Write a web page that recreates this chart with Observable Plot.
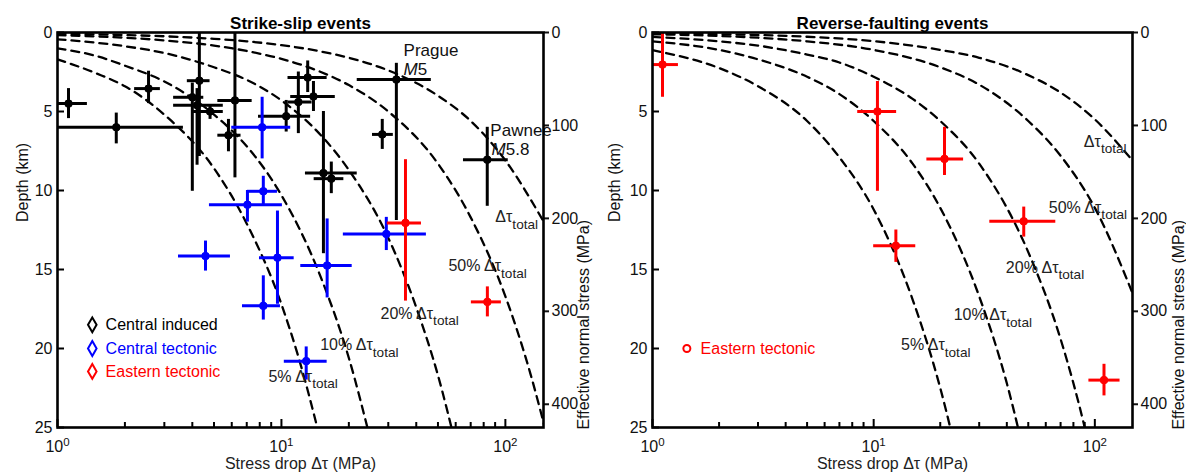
<!DOCTYPE html>
<html><head><meta charset="utf-8">
<script src="https://cdn.jsdelivr.net/npm/d3@7"></script>
<script src="https://cdn.jsdelivr.net/npm/@observablehq/plot@0.6"></script>
<style>
body{margin:0;background:#fff;font-family:"Liberation Sans",Arial,Helvetica,sans-serif;}
#wrap{display:flex;width:1186px;height:476px;overflow:hidden;}
</style></head><body><div id="wrap"></div>
<script>
// ---------------- data ----------------
const DT_MAX = 148;          // upper x bound (MPa)
const DEPTH_MAX = 25;        // km
const stressPerKm = 17;      // MPa per km (right axis)
const xMajor = [1, 10, 100];
const xMinor = [2,3,4,5,6,7,8,9,20,30,40,50,60,70,80,90];
const depthTicks = [0,5,10,15,20,25];
const stressTicks = [0,100,200,300,400];

// [stress drop, depth, stress drop min, stress drop max, depth min, depth max]
const ssCentralInduced = [
  [1.12,4.5,0.97,1.36,3.55,5.45],
  [1.83,6.0,0.5,3.65,5.1,7.05],
  [2.55,3.55,2.21,2.88,2.45,4.5],
  [4.3,3.05,3.8,4.8,0,7.85],
  [4.0,4.1,3.3,4.5,3.2,10.05],
  [4.2,4.6,3.3,5.5,3.55,8.4],
  [4.8,5.0,4.05,5.5,4.6,5.5],
  [6.2,4.3,5.2,7.4,0,9.2],
  [5.8,6.5,5.2,6.6,5.5,7.55],
  [13.1,2.85,10.7,16.0,1.8,3.8],
  [13.9,4.05,11.0,17.4,3.1,5.0],
  [11.9,4.4,10.7,13.7,2.5,6.4],
  [10.5,5.3,7.9,13.5,4.3,6.3],
  [15.4,8.9,12.8,21.8,5.0,14.0],
  [16.7,9.25,14.0,19.0,8.2,10.2],
  [28.2,6.45,25.5,31.6,5.5,7.4],
  [32.6,2.98,21.8,46.7,1.95,11.9],
  [83.0,8.05,65.0,103.0,6.0,11.0]
];
const ssCentralTectonic = [
  [8.2,6.0,6.0,11.0,4.1,8.0],
  [8.3,10.05,7.05,9.6,9.1,10.9],
  [7.05,10.9,4.77,10.1,10.0,12.0],
  [4.58,14.15,3.47,5.92,13.2,15.1],
  [9.6,14.25,7.98,11.4,11.3,17.2],
  [8.3,17.3,6.7,9.9,15.4,18.2],
  [16.0,14.75,12.2,20.7,11.8,16.8],
  [29.4,12.75,18.9,44.4,11.7,13.8],
  [12.9,20.8,10.3,16.0,19.9,22.0]
];
const ssEasternTectonic = [
  [35.8,12.05,29.7,42.2,8.05,17.0],
  [83.1,17.05,70.5,96.0,16.1,18.0]
];
const rfEasternTectonic = [
  [1.11,2.03,0.97,1.31,0.05,4.1],
  [10.4,5.0,8.47,12.7,3.1,10.05],
  [20.9,8.0,17.4,25.5,6.0,9.05],
  [47.7,11.95,33.5,66.6,11.05,12.95],
  [12.6,13.5,10.0,15.5,12.5,14.55],
  [110,22.0,94,130,21.0,23.0]
];

// dashed reference curves: [stress drop, depth]
const ssCurve5   = [[1,1.7],[1.5,2.6],[2,3.4],[3,5.2],[5,8.6],[7,12.1],[10,17.2],[12,20.7],[15,25.9]];
const ssCurve10  = [[1,1.0],[1.5,1.5],[2,2.1],[3,3.1],[5,5.2],[7,7.2],[10,10.3],[15,15.5],[20,20.6],[25,25.8]];
const ssCurve20  = [[1,0.43],[2,0.87],[3,1.3],[5,2.2],[7,3.0],[10,4.3],[15,6.5],[20,8.7],[30,13.0],[40,17.4],[50,21.7],[60,26.1]];
const ssCurve50  = [[1,0.17],[2,0.33],[3,0.5],[5,0.83],[7,1.17],[10,1.67],[15,2.5],[20,3.33],[30,5.0],[50,8.3],[70,11.7],[100,16.7],[130,21.7],[150,25.0]];
const ssCurve100 = [[1,0.08],[2,0.16],[3,0.24],[5,0.4],[7,0.56],[10,0.8],[15,1.2],[20,1.6],[30,2.4],[50,4.0],[70,5.6],[100,8.1],[150,12.1]];
const rfCurve5   = [[1,1.12],[2,2.25],[3,3.4],[5,5.6],[7,7.9],[10,11.2],[15,16.9],[20,22.5],[25,28.1]];
const rfCurve10  = [[1,0.56],[2,1.1],[3,1.7],[5,2.8],[7,3.9],[10,5.6],[15,8.3],[20,11.1],[30,16.7],[40,22.2],[50,27.8]];
const rfCurve20  = [[1,0.28],[2,0.56],[3,0.83],[5,1.4],[7,1.9],[10,2.8],[15,4.2],[20,5.6],[30,8.3],[50,13.9],[70,19.4],[90,25.0],[100,27.8]];
const rfCurve50  = [[1,0.11],[2,0.22],[3,0.33],[5,0.56],[10,1.1],[20,2.2],[30,3.3],[50,5.6],[70,7.8],[100,11.1],[150,16.7]];
const rfCurve100 = [[1,0.05],[2,0.11],[3,0.16],[5,0.27],[10,0.55],[20,1.1],[30,1.6],[50,2.7],[70,3.8],[100,5.5],[150,8.2]];

// curve labels: [stress drop, depth, text]
const ssCurveLabels = [
  [90.2,11.7,"Δτ_total"],[55.7,14.8,"50% Δτ_total"],[27.7,17.8,"20% Δτ_total"],
  [14.9,19.8,"10% Δτ_total"],[8.75,21.8,"5% Δτ_total"]
];
const rfCurveLabels = [
  [89.2,6.9,"Δτ_total"],[61.9,11.1,"50% Δτ_total"],[39.6,14.9,"20% Δτ_total"],
  [23.0,17.9,"10% Δτ_total"],[13.3,19.8,"5% Δτ_total"]
];
const ssEventLabels = [
  [35.1,1.14,"Prague"],[35.1,2.35,"*M*5"],[85.7,6.2,"Pawnee"],[86.8,7.4,"*M*5.8"]
];
// legends: [marker stress drop, text stress drop, depth, text, colour]
const ssLegend = [
  [1.43,1.64,18.5,"Central induced","#000000"],
  [1.43,1.64,20.0,"Central tectonic","#0000ff"],
  [1.43,1.64,21.45,"Eastern tectonic","#ff0000"]
];
const rfLegend = [[1.43,1.65,20.0,"Eastern tectonic","#ff0000"]];

// ---------------- helpers ----------------
const toPts = a => a.map(([dt,d,lo,hi,dlo,dhi]) => ({dt,d,lo,hi,dlo,dhi}));
const toCurves = list => list.flatMap(([name, pts]) => pts.map(([dt,d]) => ({dt,d,name})));
const toLabels = a => a.map(([dt,d,text]) => ({dt,d,text}));

function seriesMarks(data, color) {
  const p = toPts(data);
  return [
    Plot.ruleY(p, {y:"d", x1:"lo", x2:"hi", stroke:color, strokeWidth:3, clip:true}),
    Plot.ruleX(p, {x:"dt", y1:"dlo", y2:"dhi", stroke:color, strokeWidth:3, clip:true}),
    Plot.dot(p, {x:"dt", y:"d", r:3.8, fill:color, stroke:color, strokeWidth:1})
  ];
}

function panel(o) {
  const W = 593, H = 476, mt = 32, mb = 49;
  const fw = W - o.ml - o.mr, fh = H - mt - mb;
  const fs = 16;
  const leg = o.legend.map(([mx,tx,d,text,color]) => ({mx,tx,d,text,color}));
  return Plot.plot({
    width: W, height: H, marginLeft: o.ml, marginRight: o.mr, marginTop: mt, marginBottom: mb,
    style: {fontFamily: '"Liberation Sans", Arial, Helvetica, sans-serif', fontSize: fs + "px", color: "#111", background: "#fff", overflow: "visible"},
    x: {type: "log", domain: [1, DT_MAX], axis: null},
    y: {domain: [0, DEPTH_MAX], reverse: true, axis: null},
    marks: [
      Plot.line(toCurves(o.curves), {x:"dt", y:"d", z:"name", stroke:"#000", strokeWidth:2.3, strokeDasharray:"8,6", curve:"monotone-x", clip:true}),
      ...o.series.flatMap(([data, color]) => seriesMarks(data, color)),
      Plot.text(toLabels(o.curveLabels), {x:"dt", y:"d", text:"text", textAnchor:"start", fill:"#222", fontSize:fs}),
      Plot.text(toLabels(o.eventLabels || []), {x:"dt", y:"d", text:"text", textAnchor:"start", fill:"#111", fontSize:fs+1}),
      Plot.dot(leg, {x:"mx", y:"d", r:o.legendSymbol === "diamond" ? 4.5 : 3.5, symbol:o.legendSymbol, stroke:"color", fill:"#fff", strokeWidth:2}),
      Plot.text(leg, {x:"tx", y:"d", text:"text", fill:"color", textAnchor:"start", fontSize:fs}),
      // axes
      Plot.axisX(xMajor, {anchor:"bottom", tickSize:0, tickPadding:13, tickFormat: d => "10^" + Math.round(Math.log10(d)), label:null, fontSize:fs}),
      Plot.tickX(xMajor, {x: d => d, insetTop: fh - 8, stroke:"#000", strokeWidth:2}),
      Plot.tickX(xMinor, {x: d => d, insetTop: fh - 5, stroke:"#000", strokeWidth:2}),
      Plot.axisY(depthTicks, {anchor:"left", tickSize:0, tickPadding:5, label:null, fontSize:fs}),
      Plot.tickY(depthTicks, {y: d => d, insetRight: fw - 7, stroke:"#000", strokeWidth:2}),
      Plot.axisY(stressTicks.map(s => s / stressPerKm), {anchor:"right", tickSize:5, tickPadding:3, strokeWidth:2, tickFormat: d => Math.round(d * stressPerKm), label:null, fontSize:fs}),
      Plot.frame({stroke:"#000", strokeWidth:2.6}),
      // titles and axis labels
      Plot.text([o.title], {frameAnchor:"top", dy:-16, fontWeight:"bold", fontSize:17, fill:"#000"}),
      Plot.text(["Stress drop Δτ (MPa)"], {frameAnchor:"bottom", dy:41, fontSize:fs, fill:"#222"}),
      Plot.text(["Depth (km)"], {frameAnchor:"left", dx:o.yLabelDx, dy:-8, rotate:-90, fontSize:fs, fill:"#111"}),
      Plot.text(["Effective normal stress (MPa)"], {frameAnchor:"right", dx:o.y2LabelDx, dy:-10, rotate:-90, fontSize:fs, fill:"#111"})
    ]
  });
}

function richText(svg) {
  svg.querySelectorAll("text").forEach(t => {
    const s = t.textContent;
    if (!/[\^_]|\*M\*/.test(s)) return;
    while (t.firstChild) t.removeChild(t.firstChild);
    const ns = "http://www.w3.org/2000/svg";
    const add = (txt, attrs) => {
      const ts = document.createElementNS(ns, "tspan");
      ts.textContent = txt;
      for (const k in attrs) ts.setAttribute(k, attrs[k]);
      t.appendChild(ts);
    };
    if (s.includes("^")) {
      const [b, e] = s.split("^");
      add(b, {});
      add(e, {dy:"-0.55em", "font-size":"0.72em"});
    } else if (s.includes("_")) {
      const [b, e] = s.split("_");
      add(b, {});
      add(e, {dy:"0.45em", "font-size":"0.85em"});
    } else {
      const rest = s.replace("*M*", "");
      add("M", {"font-style":"italic"});
      add(rest, {});
    }
  });
}

const left = panel({
  title: "Strike-slip events", ml: 57, mr: 50, yLabelDx: -35, y2LabelDx: 40,
  curves: [["c5",ssCurve5],["c10",ssCurve10],["c20",ssCurve20],["c50",ssCurve50],["c100",ssCurve100]],
  series: [[ssCentralInduced,"#000000"],[ssCentralTectonic,"#0000ff"],[ssEasternTectonic,"#ff0000"]],
  curveLabels: ssCurveLabels, eventLabels: ssEventLabels,
  legend: ssLegend, legendSymbol: "diamond"
});
const right = panel({
  title: "Reverse-faulting events", ml: 59, mr: 54, yLabelDx: -38, y2LabelDx: 46,
  curves: [["c5",rfCurve5],["c10",rfCurve10],["c20",rfCurve20],["c50",rfCurve50],["c100",rfCurve100]],
  series: [[rfEasternTectonic,"#ff0000"]],
  curveLabels: rfCurveLabels, eventLabels: [],
  legend: rfLegend, legendSymbol: "circle"
});
richText(left); richText(right);
document.getElementById("wrap").append(left, right);
</script></body></html>
